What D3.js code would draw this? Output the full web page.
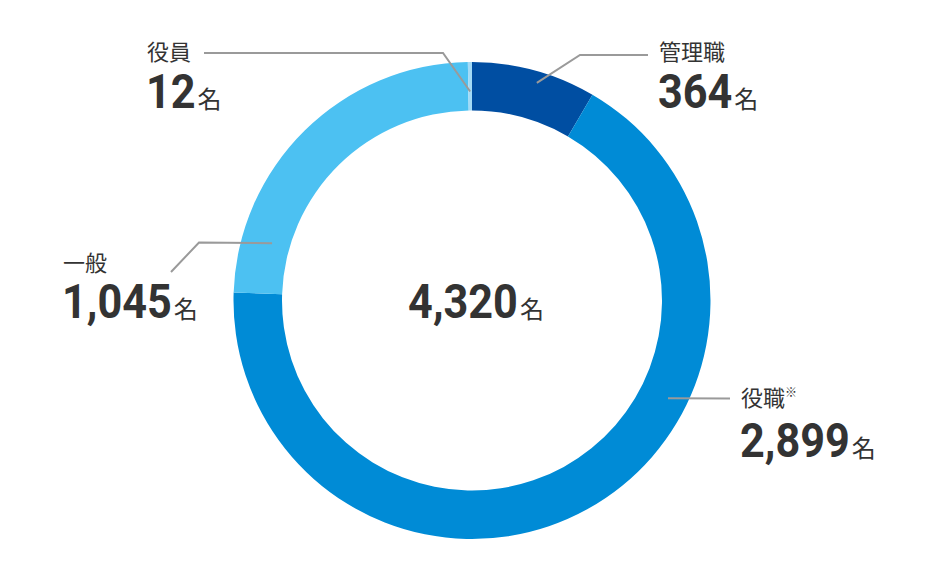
<!DOCTYPE html>
<html>
<head>
<meta charset="utf-8">
<script src="https://cdn.jsdelivr.net/npm/d3@7"></script>
<style>
  body { margin: 0; background: #fff; }
  svg { display: block; }
</style>
</head>
<body>
<div class="DONUT"></div>
<script>
// chart data
var categories = ["管理職", "役職", "一般", "役員"];
var counts = [364, 2899, 1045, 12];
var notes = ["", "※", "", ""];
var total = 4320;

var colors = ["#004ea2", "#008bd6", "#4cc1f2", "#a3daf6"];

// label layout: text anchor x, label baseline, number baseline,
// leader start (angle in degrees, radius), leader path points after it
var labelPos = [
  {x: 660, yl: 60, yn: 107.5, a: 16.6, r: 227, pts: [[580, 55], [648, 55]]},
  {x: 742, yl: 406, yn: 457, a: 116.5, r: 219, pts: [[730, 398.5]]},
  {x: 64, yl: 271, yn: 318, a: 286, r: 208, pts: [[199, 242.5], [171, 272]]},
  {x: 148, yl: 60, yn: 107.5, a: -0.5, r: 209, pts: [[443, 53], [204, 53]]}
];

var width = 940, height = 580;
var cx = 472, cy = 300.5;
var outerR = 238.5, innerR = 190;

var svg = d3.select(".DONUT").append("svg")
  .attr("width", width)
  .attr("height", height);

var pie = d3.pie().sort(null).value(function(d) { return d; });
var arc = d3.arc().innerRadius(innerR).outerRadius(outerR);

var g = svg.append("g").attr("transform", "translate(" + cx + "," + cy + ")");

g.selectAll("path.slice")
  .data(pie(counts))
  .enter()
  .append("path")
  .attr("class", "slice")
  .attr("d", arc)
  .attr("fill", function(d, i) { return colors[i]; });

// leader lines
var line = d3.line();
labelPos.forEach(function(p, i) {
  var rad = p.a * Math.PI / 180;
  var start = [cx + p.r * Math.sin(rad), cy - p.r * Math.cos(rad)];
  svg.append("path")
    .attr("d", line([start].concat(p.pts)))
    .attr("fill", "none")
    .attr("stroke", "#9a9a9a")
    .attr("stroke-width", 2);
});

var fmt = d3.format(",");
var numFont = "Roboto, 'Liberation Sans', sans-serif";
var cjkFont = "'Noto Sans CJK JP', 'Noto Sans', sans-serif";
var squeeze = 0.9;

function numberWithUnit(sel, x, y, value, anchorMiddle) {
  var grp = sel.append("g");
  var num = grp.append("text")
    .attr("font-family", numFont)
    .attr("font-weight", 700)
    .attr("font-size", 48)
    .attr("fill", "#333")
    .text(fmt(value));
  var w = num.node().getComputedTextLength() * squeeze;
  var unit = grp.append("text")
    .attr("font-family", cjkFont)
    .attr("font-size", 24)
    .attr("fill", "#333")
    .attr("x", w + 2)
    .text("名");
  var uw = unit.node().getComputedTextLength();
  var left = anchorMiddle ? x - (w + 2 + uw) / 2 : x;
  num.attr("transform", "scale(" + squeeze + ",1)");
  grp.attr("transform", "translate(" + left + "," + y + ")");
}

labelPos.forEach(function(p, i) {
  var t = svg.append("text")
    .attr("x", p.x - 1)
    .attr("y", p.yl)
    .attr("font-family", cjkFont)
    .attr("font-size", 22)
    .attr("fill", "#333")
    .text(categories[i]);
  if (notes[i]) {
    t.append("tspan")
      .attr("font-size", 12)
      .attr("dy", -9)
      .text(notes[i]);
  }
  numberWithUnit(svg, p.x - 2, p.yn, counts[i], false);
});

numberWithUnit(svg, 476, 317.5, total, true);
</script>
</body>
</html>
